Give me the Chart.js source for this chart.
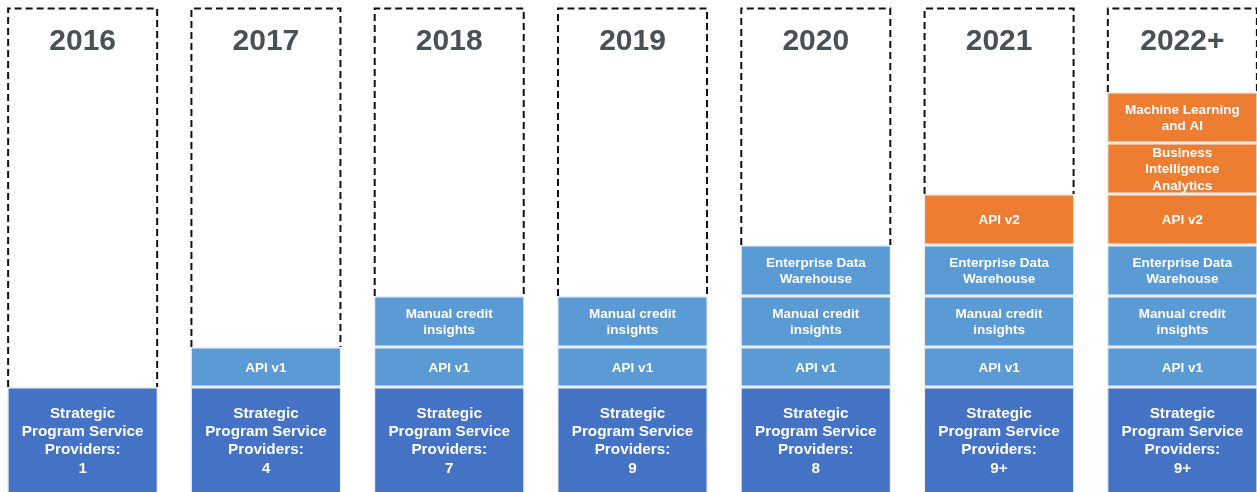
<!DOCTYPE html>
<html>
<head>
<meta charset="utf-8">
<script src="https://cdn.jsdelivr.net/npm/chart.js@4/dist/chart.umd.min.js"></script>
<style>
  html, body { margin: 0; padding: 0; background: #ffffff; overflow: hidden; }
  body { width: 1257px; height: 492px; position: relative; }
  #wrap { position: absolute; left: -9px; top: 0; width: 1283px; height: 497px; }
</style>
</head>
<body>
<div id="wrap"><canvas id="c"></canvas></div>
<script>
// ---- data (heights in block units) ----
const years = ['2016', '2017', '2018', '2019', '2020', '2021', '2022+'];
const providerCounts = ['1', '4', '7', '9', '8', '9+', '9+'];
const providers = [110, 110, 110, 110, 110, 110, 110];
const apiV1 = [null, 40, 40, 40, 40, 40, 40];
const manualCredit = [null, null, 51, 51, 51, 51, 51];
const dataWarehouse = [null, null, null, null, 51, 51, 51];
const apiV2 = [null, null, null, null, null, 51, 51];
const biAnalytics = [null, null, null, null, null, null, 51];
const mlAi = [null, null, null, null, null, null, 51];
const frameTop = 488.5;
const axisMax = 497;

const providerLabels = providerCounts.map(n => ['Strategic', 'Program Service', 'Providers:', n]);
const segmentLabels = {
  apiV1: ['API v1'],
  manualCredit: ['Manual credit', 'insights'],
  dataWarehouse: ['Enterprise Data', 'Warehouse'],
  apiV2: ['API v2'],
  biAnalytics: ['Business', 'Intelligence', 'Analytics'],
  mlAi: ['Machine Learning', 'and AI']
};

const DARK = '#4472C4', LIGHT = '#5B9BD5', ORANGE = '#ED7D31';
const FONT = "'Liberation Sans', Arial, sans-serif";
const VISIBLE_BOTTOM = 492;

function ds(label, data, color, lines, big) {
  return {
    label: label, data: data, backgroundColor: color,
    borderColor: '#ececec', borderWidth: 1.5, borderSkipped: false,
    categoryPercentage: 1, barPercentage: 0.824,
    _lines: lines, _big: !!big
  };
}

const datasets = [
  ds('Providers', providers, DARK, providerLabels, true),
  ds('API v1', apiV1, LIGHT, segmentLabels.apiV1),
  ds('Manual credit insights', manualCredit, LIGHT, segmentLabels.manualCredit),
  ds('Enterprise Data Warehouse', dataWarehouse, LIGHT, segmentLabels.dataWarehouse),
  ds('API v2', apiV2, ORANGE, segmentLabels.apiV2),
  ds('Business Intelligence Analytics', biAnalytics, ORANGE, segmentLabels.biAnalytics),
  ds('Machine Learning and AI', mlAi, ORANGE, segmentLabels.mlAi)
];

const overlay = {
  id: 'overlay',
  afterDatasetsDraw(chart) {
    const ctx = chart.ctx;
    const y = chart.scales.y;
    const x = chart.scales.x;
    // segment labels
    chart.data.datasets.forEach((d, di) => {
      const meta = chart.getDatasetMeta(di);
      meta.data.forEach((el, i) => {
        if (d.data[i] == null) return;
        const lines = Array.isArray(d._lines[0]) ? d._lines[i] : d._lines;
        const cy = (el.y + Math.min(el.base, VISIBLE_BOTTOM)) / 2 + (d._big ? 1.5 : 1);
        const lh = d._big ? 18.4 : 16.4;
        ctx.save();
        ctx.fillStyle = '#ffffff';
        ctx.font = 'bold ' + (d._big ? '15.3px ' : '13.5px ') + FONT;
        ctx.textAlign = 'center';
        ctx.textBaseline = 'middle';
        const start = cy - (lines.length - 1) * lh / 2;
        lines.forEach((t, k) => ctx.fillText(t, el.x, start + k * lh));
        ctx.restore();
      });
    });
    // dashed frames and year labels
    const first = chart.getDatasetMeta(0).data;
    years.forEach((yr, i) => {
      const el = first[i];
      const w = el.width;
      let total = 0;
      chart.data.datasets.forEach(d => { if (d.data[i] != null) total += d.data[i]; });
      const left = el.x - w / 2 + 1;
      const right = el.x + w / 2 - 1;
      const top = y.getPixelForValue(frameTop);
      const bottom = y.getPixelForValue(total);
      ctx.save();
      ctx.strokeStyle = '#111111';
      ctx.lineWidth = 2;
      ctx.setLineDash([7, 4]);
      ctx.beginPath();
      ctx.moveTo(left, bottom);
      ctx.lineTo(left, top);
      ctx.lineTo(right, top);
      ctx.lineTo(right, bottom);
      ctx.stroke();
      ctx.restore();
      ctx.save();
      ctx.fillStyle = '#4b5057';
      ctx.font = 'bold 30px ' + FONT;
      ctx.textAlign = 'center';
      ctx.textBaseline = 'middle';
      ctx.fillText(yr, x.getPixelForValue(i), 42);
      ctx.restore();
    });
  }
};

new Chart(document.getElementById('c'), {
  type: 'bar',
  data: { labels: years, datasets: datasets },
  options: {
    responsive: true,
    maintainAspectRatio: false,
    animation: false,
    layout: { padding: 0 },
    plugins: { legend: { display: false }, tooltip: { enabled: false } },
    scales: {
      x: { stacked: true, display: false, offset: true, grid: { display: false } },
      y: { stacked: true, display: false, min: 0, max: axisMax, grid: { display: false } }
    }
  },
  plugins: [overlay]
});
</script>
</body>
</html>
